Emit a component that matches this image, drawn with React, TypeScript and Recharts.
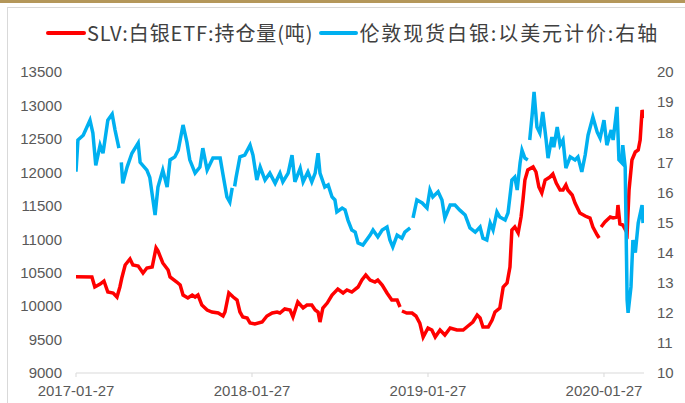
import { LineChart, Line, XAxis, YAxis } from 'recharts';

// 伦敦现货白银 (right axis, USD/oz)
const silverDates = [
  '2017-01-27', '2017-01-31', '2017-02-11', '2017-02-25', '2017-03-03', '2017-03-09', '2017-03-18', '2017-03-24',
  '2017-04-03', '2017-04-12', '2017-04-18', '2017-04-26', '2017-04-28', '2017-05-01', '2017-05-04', '2017-05-13',
  '2017-05-23', '2017-06-05', '2017-06-09', '2017-06-23', '2017-06-29', '2017-07-10', '2017-07-16', '2017-07-26',
  '2017-08-04', '2017-08-10', '2017-08-20', '2017-08-27', '2017-09-06', '2017-09-14', '2017-09-20', '2017-10-01',
  '2017-10-11', '2017-10-17', '2017-10-26', '2017-11-07', '2017-11-22', '2017-11-28', '2017-12-06', '2017-12-12',
  '2017-12-17', '2017-12-20', '2017-12-22', '2017-12-25', '2018-01-02', '2018-01-12', '2018-01-23', '2018-01-29',
  '2018-02-06', '2018-02-13', '2018-02-23', '2018-03-05', '2018-03-16', '2018-03-26', '2018-04-01', '2018-04-12',
  '2018-04-20', '2018-04-26', '2018-05-07', '2018-05-13', '2018-05-23', '2018-05-31', '2018-06-07', '2018-06-13',
  '2018-06-17', '2018-06-27', '2018-07-04', '2018-07-12', '2018-07-18', '2018-07-22', '2018-08-02', '2018-08-08',
  '2018-08-14', '2018-08-22', '2018-08-29', '2018-09-04', '2018-09-14', '2018-09-29', '2018-10-05', '2018-10-15',
  '2018-10-24', '2018-11-03', '2018-11-09', '2018-11-15', '2018-11-24', '2018-12-04', '2018-12-10', '2018-12-21',
  '2018-12-24', '2018-12-27', '2019-01-04', '2019-01-15', '2019-01-25', '2019-01-31', '2019-02-06', '2019-02-17',
  '2019-02-25', '2019-03-03', '2019-03-14', '2019-03-24', '2019-04-03', '2019-04-14', '2019-04-24', '2019-05-05',
  '2019-05-15', '2019-05-21', '2019-05-29', '2019-06-05', '2019-06-11', '2019-06-19', '2019-06-25', '2019-07-06',
  '2019-07-12', '2019-07-20', '2019-07-26', '2019-07-31', '2019-08-06', '2019-08-10', '2019-08-16', '2019-08-22',
  '2019-08-24', '2019-08-26', '2019-08-31', '2019-09-04', '2019-09-10', '2019-09-16', '2019-09-22', '2019-09-29',
  '2019-10-03', '2019-10-11', '2019-10-15', '2019-10-22', '2019-10-28', '2019-11-03', '2019-11-09', '2019-11-18',
  '2019-11-28', '2019-12-04', '2019-12-12', '2019-12-19', '2019-12-25', '2020-01-04', '2020-01-13', '2020-01-19',
  '2020-01-27', '2020-02-02', '2020-02-11', '2020-02-15', '2020-02-23', '2020-02-27', '2020-03-04', '2020-03-06',
  '2020-03-11', '2020-03-15', '2020-03-17', '2020-03-23', '2020-03-27', '2020-04-01', '2020-04-07', '2020-04-15',
  '2020-04-17',
];
const silverPrice = [
  16.69, 17.74, 17.9, 18.4, 17.97, 16.9, 17.57, 17.3,
  18.4, 18.6, 18.07, 17.47, null, 17.0, 16.3, 16.84,
  17.3, 17.64, 17.0, 16.74, 16.5, 15.25, 16.18, 16.74,
  16.18, 17.08, 17.18, 17.4, 18.24, 17.67, 17.08, 16.64,
  16.84, 17.47, 16.74, 17.14, 17.14, 16.58, 15.85, 15.68,
  16.15, null, 16.2, 16.5, 17.18, 17.24, 17.57, 17.24,
  16.41, 16.84, 16.41, 16.64, 16.3, 16.64, 16.35, 16.64,
  17.24, 16.35, 16.8, 16.35, 16.68, 16.35, 16.64, 17.3,
  16.64, 16.18, 16.25, 15.85, 15.75, 15.35, 15.48, 15.42,
  15.08, 14.75, 14.68, 14.32, 14.25, 14.58, 14.75, 14.52,
  14.75, 14.85, 14.42, 14.19, 14.58, 14.48, 14.68, 14.82,
  null, 15.15, 15.75, 15.65, 15.48, 16.08, 15.85, 16.02,
  15.75, 15.15, 15.58, 15.58, 15.41, 15.25, 14.82, 14.68,
  14.85, 14.48, 14.42, 14.98, 14.75, 15.35, 15.18, 15.08,
  15.32, 16.41, 16.51, 16.08, 16.98, 17.4, 17.14, 17.08,
  null, 17.74, 18.57, 19.34, 18.17, 17.97, 18.67, 17.74,
  17.14, 17.84, 17.5, 18.17, 17.57, 17.74, 16.81, 17.18,
  17.08, 17.18, 16.68, 17.24, 17.9, 18.5, 18.0, 17.8,
  18.4, 17.57, 18.07, 17.74, 18.84, 17.08, 16.98, 17.57,
  16.84, 12.43, 12.0, 12.86, 14.42, 14.0, 14.98, 15.58,
  14.98,
];

// SLV 白银ETF 持仓量 (left axis, 吨)
const slvDates = [
  '2017-01-27', '2017-03-01', '2017-03-07', '2017-03-18', '2017-03-26', '2017-04-03', '2017-04-14', '2017-04-22',
  '2017-04-28', '2017-05-02', '2017-05-09', '2017-05-19', '2017-05-25', '2017-06-05', '2017-06-15', '2017-06-23',
  '2017-07-04', '2017-07-12', '2017-07-16', '2017-07-26', '2017-08-06', '2017-08-10', '2017-08-24', '2017-08-31',
  '2017-09-06', '2017-09-16', '2017-09-25', '2017-10-01', '2017-10-07', '2017-10-15', '2017-10-26', '2017-11-05',
  '2017-11-18', '2017-11-28', '2017-12-02', '2017-12-10', '2017-12-19', '2017-12-27', '2018-01-02', '2018-01-08',
  '2018-01-17', '2018-01-23', '2018-02-02', '2018-02-17', '2018-02-27', '2018-03-10', '2018-03-20', '2018-03-26',
  '2018-04-05', '2018-04-16', '2018-04-22', '2018-05-02', '2018-05-13', '2018-05-21', '2018-05-31', '2018-06-07',
  '2018-06-13', '2018-06-17', '2018-06-23', '2018-07-02', '2018-07-12', '2018-07-24', '2018-08-04', '2018-08-12',
  '2018-08-22', '2018-09-04', '2018-09-12', '2018-09-20', '2018-09-29', '2018-10-09', '2018-10-15', '2018-10-24',
  '2018-11-03', '2018-11-13', '2018-11-24', '2018-11-30', '2018-12-02', '2018-12-04', '2018-12-14', '2018-12-25',
  '2019-01-02', '2019-01-10', '2019-01-17', '2019-01-27', '2019-02-04', '2019-02-11', '2019-02-21', '2019-03-03',
  '2019-03-14', '2019-03-28', '2019-04-10', '2019-04-20', '2019-04-30', '2019-05-09', '2019-05-15', '2019-05-21',
  '2019-06-01', '2019-06-09', '2019-06-15', '2019-06-25', '2019-07-02', '2019-07-10', '2019-07-16', '2019-07-20',
  '2019-07-26', '2019-08-02', '2019-08-08', '2019-08-12', '2019-08-16', '2019-08-22', '2019-09-02', '2019-09-08',
  '2019-09-14', '2019-09-20', '2019-09-27', '2019-10-07', '2019-10-13', '2019-10-20', '2019-10-28', '2019-11-03',
  '2019-11-09', '2019-11-13', '2019-11-22', '2019-11-28', '2019-12-08', '2019-12-19', '2019-12-29', '2020-01-04',
  '2020-01-13', '2020-01-17', '2020-01-19', '2020-01-21', '2020-01-29', '2020-02-09', '2020-02-15', '2020-02-23',
  '2020-02-25', '2020-02-29', '2020-03-06', '2020-03-15', '2020-03-19', '2020-03-25', '2020-04-01', '2020-04-07',
  '2020-04-11', '2020-04-15', '2020-04-19',
];
const slvHoldings = [
  10440, 10435, 10286, 10330, 10375, 10211, 10196, 10136,
  10286, 10420, 10615, 10705, 10615, 10600, 10495, 10570,
  10585, 10870, 10825, 10645, 10540, 10435, 10360, 10316,
  10166, 10121, 10166, 10136, 10166, 10016, 9942, 9912,
  9897, 9852, 9912, 10196, 10136, 10091, 9912, 9837,
  9822, 9747, 9732, 9762, 9852, 9897, 9912, 9897,
  9957, 9942, 9837, 10061, 9972, 10016, 10016, 9942,
  9912, 9762, 9972, 10046, 10166, 10256, 10196, 10241,
  10211, 10286, 10390, 10465, 10390, 10360, 10390, 10316,
  10196, 10091, 10091, 9987, null, 9927, 9897, 9897,
  9852, 9747, 9538, 9673, 9643, 9538, 9643, 9568,
  9673, 9643, 9643, 9703, 9762, 9867, 9822, 9688,
  9688, 9792, 9912, 9972, 10286, 10346, 10585, 11138,
  11183, 11093, 11332, 11586, 11885, 12035, 12080, 12005,
  11780, 11691, 11885, 11930, 11975, 11840, 11736, 11736,
  11810, 11736, 11661, 11541, 11392, 11347, 11317, 11183,
  11063, 11018, null, 11183, 11257, 11332, 11317, 11332,
  11511, 11227, 11213, 11093, 11736, 12184, 12304, 12334,
  12483, 12932, 12812,
];

const xTicks = ['2017-01-27', '2018-01-27', '2019-01-27', '2020-01-27'];
const leftTicks = [9000, 9500, 10000, 10500, 11000, 11500, 12000, 12500, 13000, 13500];
const rightTicks = [10, 11, 12, 13, 14, 15, 16, 17, 18, 19, 20];

const seriesSlv = { name: 'SLV:白银ETF:持仓量(吨)', color: '#ff0000' };
const seriesSilver = { name: '伦敦现货白银:以美元计价:右轴', color: '#00b0f0' };

const slvData = slvDates.map((d, i) => ({ t: Date.parse(d), v: slvHoldings[i] }));
const silverData = silverDates.map((d, i) => ({ t: Date.parse(d), v: silverPrice[i] }));

const tickStyle = { fill: '#595959', fontSize: 15, fontFamily: 'Liberation Sans, Arial, sans-serif' };

const LegendRow = () => (
  <div style={{ position: 'absolute', left: 46, top: 19, display: 'flex', alignItems: 'center', whiteSpace: 'nowrap', fontFamily: '"Noto Sans CJK SC", sans-serif', fontSize: 20, lineHeight: '28px', color: '#404040' }}>
    <span style={{ display: 'inline-block', width: 40, height: 4, borderRadius: 2, background: seriesSlv.color, marginRight: 1 }} />
    <span style={{ letterSpacing: 0.9 }}>{seriesSlv.name}</span>
    <span style={{ display: 'inline-block', width: 39, height: 4, borderRadius: 2, background: seriesSilver.color, marginLeft: 6, marginRight: 1 }} />
    <span style={{ letterSpacing: 1.9 }}>{seriesSilver.name}</span>
  </div>
);

export default function App() {
  return (
    <div style={{ position: 'fixed', left: 0, top: 0, width: 685, height: 403, background: '#fff', overflow: 'hidden' }}>
      <div style={{ position: 'absolute', left: 0, top: 0, width: 685, height: 3, background: '#b4975a' }} />
      <div style={{ position: 'absolute', left: 7, top: 7, width: 700, height: 420, border: '1px solid #d9d9d9' }} />
      <LegendRow />
      <div style={{ position: 'absolute', left: 0, top: 0 }}>
        <LineChart width={685} height={403} margin={{ top: 72, right: 0, bottom: 0, left: 0 }}>
          <XAxis
            type="number"
            dataKey="t"
            domain={[Date.parse('2017-01-27'), Date.parse('2020-04-19')]}
            ticks={xTicks.map((d) => Date.parse(d))}
            tickFormatter={(v: number) => new Date(v).toISOString().slice(0, 10)}
            interval={0}
            allowDataOverflow
            stroke="#d9d9d9"
            tickSize={4}
            tickMargin={8}
            tick={tickStyle}
            height={30}
          />
          <YAxis
            yAxisId="left"
            domain={[9000, 13500]}
            ticks={leftTicks}
            interval={0}
            axisLine={false}
            tickLine={false}
            width={76}
            tickMargin={8}
            tick={tickStyle}
          />
          <YAxis
            yAxisId="right"
            orientation="right"
            domain={[10, 20]}
            ticks={rightTicks}
            interval={0}
            axisLine={false}
            tickLine={false}
            width={41}
            tickMargin={7}
            tick={tickStyle}
          />
          <Line
            yAxisId="left"
            data={slvData}
            dataKey="v"
            name={seriesSlv.name}
            stroke={seriesSlv.color}
            strokeWidth={3.5}
            dot={false}
            type="linear"
            isAnimationActive={false}
          />
          <Line
            yAxisId="right"
            data={silverData}
            dataKey="v"
            name={seriesSilver.name}
            stroke={seriesSilver.color}
            strokeWidth={3.5}
            dot={false}
            type="linear"
            isAnimationActive={false}
          />
        </LineChart>
      </div>
    </div>
  );
}
